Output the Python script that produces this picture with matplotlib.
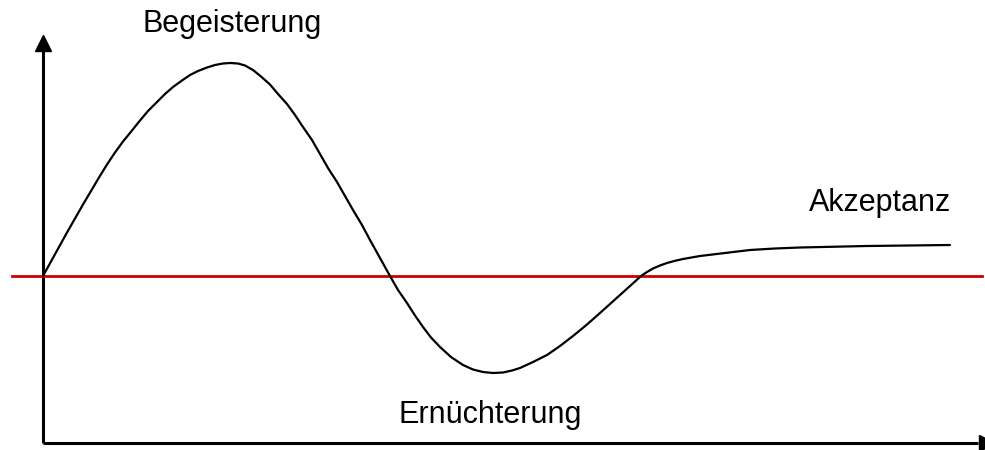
import matplotlib.pyplot as plt

# Hype-Kurve: Zeit (x) gegen Stimmung (y), Nulllinie = Ausgangsniveau
zeit = [0, 8, 16, 24, 32, 40, 48, 56, 64, 72,
        80, 89, 97, 105, 114, 122, 130, 139, 147, 155,
        164, 172, 180, 187, 195, 202, 210, 218, 227, 235,
        244, 252, 260, 269, 277, 285, 294, 302, 310, 319,
        327, 337, 347, 355, 364, 372, 380, 388, 397, 408,
        420, 430, 440, 450, 460, 469, 477, 490, 504, 517,
        530, 544, 557, 567, 577, 587, 598, 604, 610, 617,
        624, 632, 640, 657, 682, 707, 732, 757, 824, 907]
stimmung = [0, 14.5, 29, 43.5, 57.5, 71.5, 85, 98.5, 111.5, 123.5,
            134.5, 145.5, 155.5, 165, 174, 182, 189, 195.5, 201, 205,
            208.5, 211, 212.5, 213, 212.5, 210.5, 206, 199.5, 191.5, 182,
            172, 161, 149, 136, 122, 108, 94, 80, 66, 51,
            36, 18, 0, -14, -27, -39.5, -51, -61.5, -71, -81,
            -89, -93.5, -96, -97, -96.5, -94.5, -92, -86, -79, -70,
            -60, -48.5, -37, -28, -19, -10, 0, 4, 7.5, 10.5,
            13, 15.2, 17, 20, 23, 26, 27.5, 28.5, 30, 31]

beschriftung = ["Begeisterung", "Ernüchterung", "Akzeptanz"]
text_x = [189, 447, 837]
text_y = [244, -147, 65]

plt.rcParams['font.family'] = ['Liberation Sans', 'DejaVu Sans']

fig = plt.figure(figsize=(9.85, 4.5), dpi=100)
ax = fig.add_axes([0, 0, 1, 1])
ax.set_xlim(-43, 942)
ax.set_ylim(-174, 276)
ax.axis('off')

# Achsen mit Pfeilspitzen
ax.plot([0, 0], [-167, 230], color='black', lw=2.2, solid_capstyle='butt')
ax.plot([0], [233], marker='^', markersize=12, color='black')
ax.plot([0, 935], [-167, -167], color='black', lw=2.2, solid_capstyle='butt')
ax.plot([944], [-167], marker='>', markersize=12, color='black')

# Ausgangsniveau
ax.plot([-31, 939], [0, 0], color='#cc0000', lw=2)

# Kurve
ax.plot(zeit, stimmung, color='black', lw=1.6, solid_capstyle='round', solid_joinstyle='round')

for txt, x, y in zip(beschriftung, text_x, text_y):
    ax.text(x, y, txt, fontsize=22, ha='center', va='baseline', color='black')

fig.savefig('out.png', dpi=100)
